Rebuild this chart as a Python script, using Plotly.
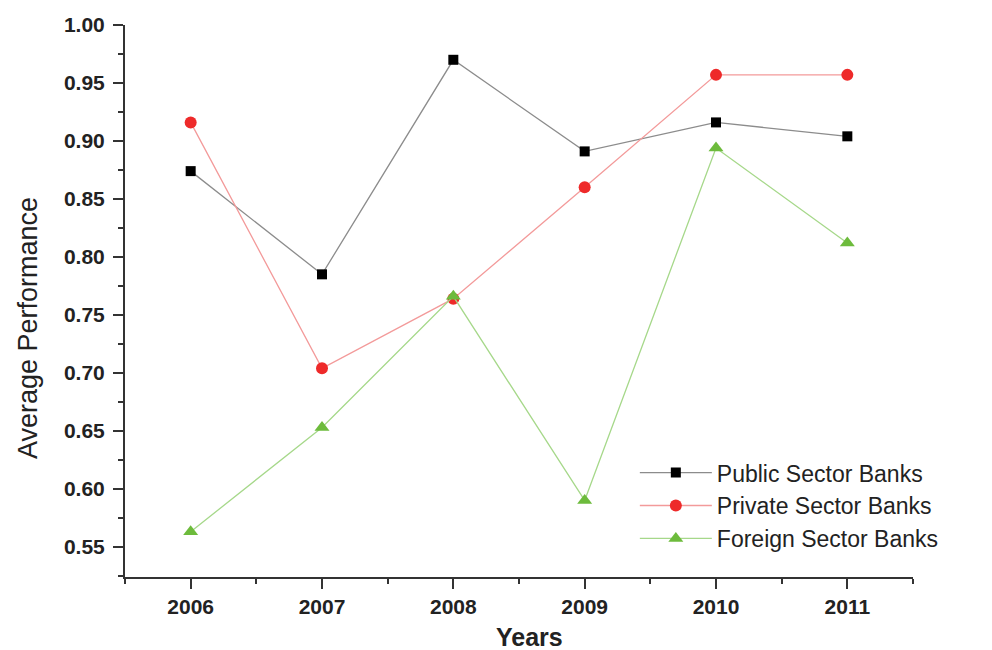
import plotly.graph_objects as go

years = [2006, 2007, 2008, 2009, 2010, 2011]
public_sector = [0.874, 0.785, 0.970, 0.891, 0.916, 0.904]
private_sector = [0.916, 0.704, 0.764, 0.860, 0.957, 0.957]
foreign_sector = [0.563, 0.653, 0.766, 0.590, 0.894, 0.812]

series_names = ["Public Sector Banks", "Private Sector Banks", "Foreign Sector Banks"]

fig = go.Figure()
fig.add_trace(go.Scatter(
    x=years, y=public_sector, name=series_names[0], mode="lines+markers",
    line=dict(color="#8c8c8c", width=1.3),
    marker=dict(symbol="square", size=10, color="#000000"),
))
fig.add_trace(go.Scatter(
    x=years, y=private_sector, name=series_names[1], mode="lines+markers",
    line=dict(color="#f39a9a", width=1.3),
    marker=dict(symbol="circle", size=12, color="#ee2a2a"),
))
fig.add_trace(go.Scatter(
    x=years, y=foreign_sector, name=series_names[2], mode="lines+markers",
    line=dict(color="#a6d88a", width=1.3),
    marker=dict(symbol="triangle-up", size=13, color="#6dbb3c"),
))

axis_color = "#333333"
fig.update_layout(
    width=992, height=650,
    margin=dict(l=117, r=87, t=17, b=81, autoexpand=False),
    paper_bgcolor="white", plot_bgcolor="white",
    font=dict(family="Liberation Sans, Arial, sans-serif", color="#222222"),
    showlegend=True,
    legend=dict(
        x=0.647, y=0.228, xanchor="left", yanchor="top",
        font=dict(size=23, color="#222222"),
        itemwidth=72,
        bgcolor="rgba(255,255,255,0)", borderwidth=0,
        tracegroupgap=0,
    ),
    xaxis=dict(
        range=[2005.5, 2011.5], automargin=False,
        tickmode="linear", tick0=2006, dtick=1,
        showgrid=False, zeroline=False,
        showline=True, linecolor=axis_color, linewidth=2,
        ticks="outside", ticklen=10, tickwidth=2, tickcolor=axis_color,
        minor=dict(dtick=0.5, tick0=2005.5, ticks="outside", ticklen=5, tickwidth=2, tickcolor=axis_color),
        tickfont=dict(size=21, weight="bold", color="#222222"),
    ),
    yaxis=dict(
        range=[0.524, 1.0], automargin=False,
        tickmode="linear", tick0=0.55, dtick=0.05, tickformat=".2f",
        showgrid=False, zeroline=False,
        showline=True, linecolor=axis_color, linewidth=2,
        ticks="outside", ticklen=10, tickwidth=2, tickcolor=axis_color,
        ticklabelstandoff=4,
        minor=dict(dtick=0.025, tick0=0.525, ticks="outside", ticklen=5, tickwidth=2, tickcolor=axis_color),
        tickfont=dict(size=21, weight="bold", color="#222222"),
    ),
    annotations=[
        dict(
            text="Average Performance", textangle=-90,
            xref="paper", yref="paper", x=-0.123, y=0.451,
            xanchor="center", yanchor="middle", showarrow=False,
            font=dict(size=27, color="#222222"),
        ),
        dict(
            text="Years",
            xref="paper", yref="paper", x=0.513, y=-0.109,
            xanchor="center", yanchor="middle", showarrow=False,
            font=dict(size=25, weight="bold", color="#222222"),
        ),
    ],
)

fig.write_html("out.html")
